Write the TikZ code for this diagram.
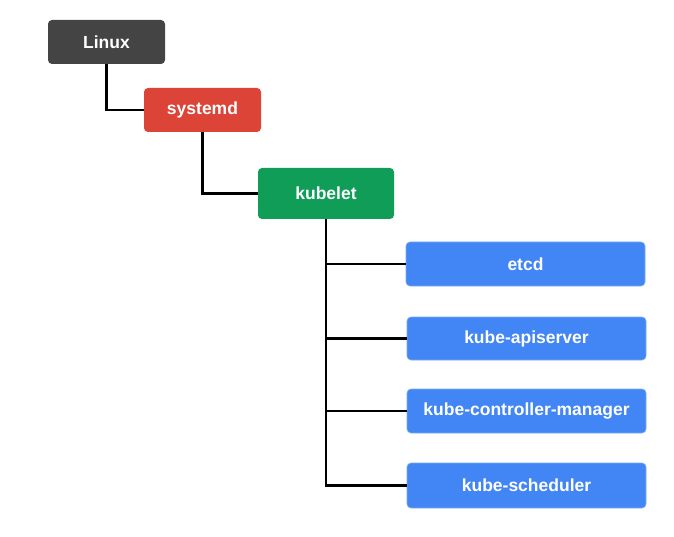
\documentclass[tikz,border=0pt]{standalone}
\usepackage{fontspec}
\setmainfont{Liberation Sans}
\usetikzlibrary{positioning}
\definecolor{linuxgrey}{HTML}{444444}
\definecolor{googlered}{HTML}{DB4437}
\definecolor{googlegreen}{HTML}{0F9D58}
\definecolor{googleblue}{HTML}{4285F4}
\tikzset{
  proc/.style={rounded corners=4pt, text=white, font=\fontsize{17.5}{20}\selectfont\bfseries,
    minimum height=44pt, inner sep=0pt},
  svc/.style={proc, fill=googleblue, draw=googleblue!70!white, line width=0.6pt, minimum width=239pt},
  link/.style={line width=2.4pt, black}
}
\begin{document}
\begin{tikzpicture}[x=1pt, y=-1pt]

  \useasboundingbox (0, 0) rectangle (674, 537);

  \node[proc, fill=linuxgrey, minimum width=117pt] (linux) at (106.5, 42) {Linux};
  \node[proc, fill=googlered, minimum width=117pt] (systemd) at (202.5, 110) {systemd};
  \node[proc, fill=googlegreen, minimum width=136pt, minimum height=51pt] (kubelet) at (326, 193.5) {kubelet};

  \node[svc] (etcd) at (525.5, 264) {etcd};
  \node[svc, minimum height=43pt] (apiserver) at (526.5, 338.5) {kube-apiserver};
  \node[svc] (ctrlmgr) at (526.5, 411) {kube-controller-manager};
  \node[svc, minimum height=45pt] (scheduler) at (526.5, 485.5) {kube-scheduler};

  \draw[link] (linux.south) |- (systemd.west);
  \draw[link] (systemd.south) |- (kubelet.west);
  \draw[link] (kubelet.south) |- (scheduler.west);
  \draw[link] (kubelet.south |- etcd.west) -- (etcd.west);
  \draw[link] (kubelet.south |- apiserver.west) -- (apiserver.west);
  \draw[link] (kubelet.south |- ctrlmgr.west) -- (ctrlmgr.west);

\end{tikzpicture}
\end{document}
